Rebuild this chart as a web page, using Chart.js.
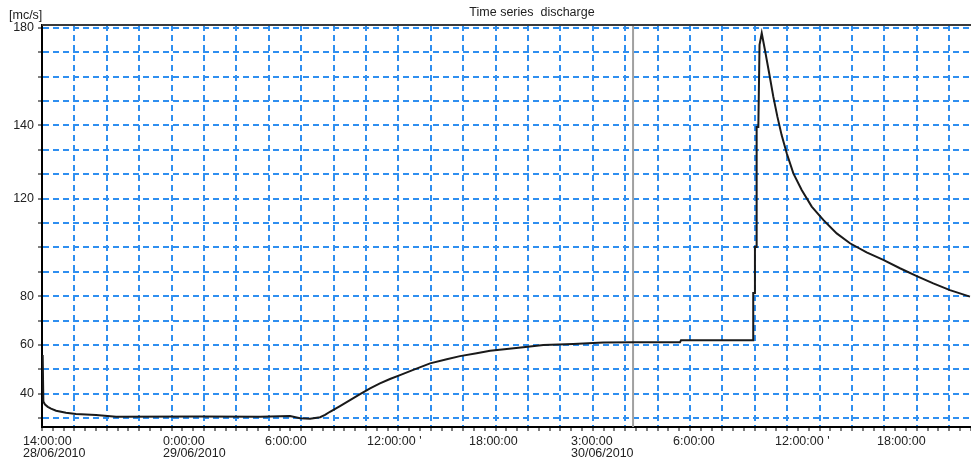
<!DOCTYPE html>
<html>
<head>
<meta charset="utf-8">
<script src="https://cdn.jsdelivr.net/npm/chart.js@4"></script>
<style>
html, body { margin: 0; padding: 0; background: #fff; overflow: hidden; }
</style>
</head>
<body>
<canvas id="grafico" width="971" height="458"></canvas>
<script>
// portata misurata: ore dalle 0:00 del 29/06/2010, valori in mc/s
const ore = [-7.08, -7.04, -6.94, -6.78, -6.59, -6.29, -5.71, -5.12, -3.94, -2.76, 2.18, 5.71,
  7.47, 8.06, 8.65, 9.24, 9.53, 9.82, 10.41, 11.0, 11.59, 12.18, 12.76, 13.35, 13.94, 14.72, 15.71,
  16.69, 17.47, 18.45, 19.24, 20.22, 21.19, 22.37, 24.13, 25.9, 27.66, 30.41, 30.47,
  34.72, 34.72, 34.82, 34.82, 34.92, 34.92, 35.02, 35.09, 35.22, 35.41, 35.66, 35.9, 36.14, 36.39,
  36.69, 37.08, 37.57, 38.16, 38.84, 39.63, 40.41, 41.39, 42.37, 43.35, 44.34, 45.31, 46.29, 47.47];
const portata = [54.2, 36.3, 35.2, 34.3, 33.6, 32.8, 32.0, 31.5, 31.2, 30.5, 30.6, 30.5,
  30.8, 29.9, 29.7, 30.3, 31.2, 32.4, 34.6, 36.9, 39.2, 41.4, 43.3, 45.0, 46.5, 48.5, 51.0,
  52.6, 53.8, 54.9, 55.9, 56.5, 57.2, 58.1, 58.5, 59.0, 59.1, 59.1, 59.9,
  59.9, 78.1, 78.1, 95.8, 95.8, 141.9, 141.9, 173.5, 178.0, 171.5, 162.5, 153.6, 145.9, 138.8,
  131.8, 124.1, 117.7, 111.3, 106.2, 101.0, 97.2, 93.7, 90.8, 87.6, 84.6, 81.8, 79.2, 76.7];

// linea del cursore
const oraCursore = 27.65;

// etichette asse x
const xTickOre = [-8.24, 0, 6, 12, 18, 24, 30, 36, 42];
const xTickLabels = [
  ['14:00:00', '28/06/2010'], ['0:00:00', '29/06/2010'], ['6:00:00'], ["12:00:00 '"], ['18:00:00'],
  ['3:00:00', '30/06/2010'], ['6:00:00'], ["12:00:00 '"], ['18:00:00']
];

// etichette asse y (dal basso verso l'alto, una per linea di griglia)
const yTickLabels = ['', '40', '', '60', '', '80', '', '', '', '120', '', '', '140', '', '', '', '180'];

const xMin = -7.12, xMax = 47.53, passoX = 1.906;
const yMin = 26.54, yMax = 181.15, yBase = 30, passoY = 9.375;
const blu = '#2f8ff0';
const font = { family: 'Liberation Sans, Arial, sans-serif', size: 12.5, lineHeight: 1 };

const tickX = [];
for (let k = 0; xMin + k * passoX / 3 <= xMax + 0.001; k++) tickX.push(xMin + k * passoX / 3);
const tickY = yTickLabels.map((t, i) => yBase + i * passoY);

const cornice = {
  id: 'cornice',
  afterDraw(chart) {
    const ctx = chart.ctx, a = chart.chartArea;
    ctx.save();
    ctx.strokeStyle = '#3a3a3a';
    ctx.lineWidth = 2;
    ctx.beginPath();
    ctx.moveTo(a.left, a.top);
    ctx.lineTo(a.right, a.top);
    ctx.stroke();
    ctx.fillStyle = '#222';
    ctx.font = '12.5px "Liberation Sans", Arial, sans-serif';
    ctx.textBaseline = 'middle';
    ctx.textAlign = 'center';
    ctx.fillText('Time series  discharge', 532, 13);
    ctx.textAlign = 'left';
    ctx.fillText('[mc/s]', 9, 16);
    ctx.restore();
  }
};

new Chart(document.getElementById('grafico'), {
  type: 'line',
  data: {
    datasets: [{
      data: ore.map((h, i) => ({ x: h, y: portata[i] })),
      borderColor: '#1a1a1a',
      borderWidth: 2,
      pointRadius: 0,
      tension: 0
    }, {
      data: [{ x: oraCursore, y: yMin }, { x: oraCursore, y: yMax }],
      borderColor: '#a0a0a0',
      borderWidth: 2,
      pointRadius: 0
    }]
  },
  options: {
    responsive: false,
    animation: false,
    layout: { padding: { top: 25, left: 0, right: 0, bottom: 0 } },
    plugins: { legend: { display: false }, tooltip: { enabled: false } },
    scales: {
      x: {
        type: 'linear', position: 'bottom', min: xMin, max: xMax,
        afterBuildTicks: s => { s.ticks = tickX.map(v => ({ value: v })); },
        afterFit: s => { s.height = 4; },
        ticks: { display: false },
        grid: {
          color: c => c.index % 3 === 0 ? blu : 'rgba(0,0,0,0)',
          lineWidth: 2, tickColor: '#000', tickLength: 4, tickWidth: 1
        },
        border: { display: true, color: '#000', width: 2, dash: [6, 4] }
      },
      x2: {
        type: 'linear', position: 'bottom', min: xMin, max: xMax,
        afterBuildTicks: s => { s.ticks = xTickOre.map(v => ({ value: v })); },
        afterFit: s => { s.height = 27; },
        grid: { display: false, drawTicks: false },
        border: { display: false },
        ticks: {
          align: 'start', autoSkip: false, maxRotation: 0, padding: 4, color: '#222', font,
          callback: (v, i) => xTickLabels[i]
        }
      },
      y: {
        type: 'linear', min: yMin, max: yMax,
        afterBuildTicks: s => { s.ticks = tickY.map(v => ({ value: v })); },
        afterFit: s => { s.width = 42; },
        ticks: { autoSkip: false, padding: 4, color: '#222', font, callback: (v, i) => yTickLabels[i] },
        grid: { color: blu, lineWidth: 2, tickColor: '#000', tickLength: 4, tickWidth: 1 },
        border: { display: true, color: '#000', width: 2, dash: [6, 4] }
      }
    }
  },
  plugins: [cornice]
});
</script>
</body>
</html>
